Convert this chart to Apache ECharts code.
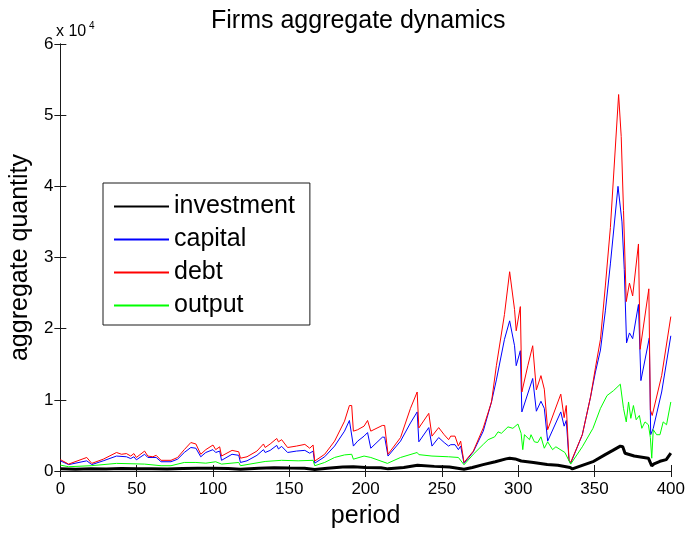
<!DOCTYPE html>
<html>
<head>
<meta charset="utf-8">
<title>Firms aggregate dynamics</title>
<script src="https://cdn.jsdelivr.net/npm/echarts@6/dist/echarts.min.js"></script>
<style>
  html, body { margin: 0; padding: 0; background: #fff; }
  #chart { width: 688px; height: 534px; }
</style>
</head>
<body>
<div id="chart"></div>
<script>
// Aggregate firm dynamics over 400 simulated periods.
const seriesNames = ['investment', 'capital', 'debt', 'output'];
const xTicks = [0, 50, 100, 150, 200, 250, 300, 350, 400];
const yTicks = [0, 1, 2, 3, 4, 5, 6]; // in units of 10^4

const investmentPeriods = [0, 10, 20, 30, 40, 50, 60, 70, 80, 90, 100, 110, 118, 130, 140, 150, 160, 166.7, 175, 185, 192, 200, 210, 214.7, 225, 234, 245, 255, 264.5, 270, 277, 285, 292, 294.4, 298, 302, 310, 319, 326, 334, 335.5, 342, 349.5, 357, 362, 366.9, 368.5, 370, 376, 385.3, 386.5, 387.5, 389, 392.9, 397, 400];
const investmentValues = [300, 250, 300, 280, 350, 300, 330, 280, 350, 400, 380, 350, 250, 400, 450, 420, 400, 200, 400, 550, 600, 500, 450, 300, 500, 800, 650, 550, 250, 500, 900, 1300, 1700, 1800, 1700, 1400, 1200, 900, 800, 500, 300, 800, 1360, 2300, 2900, 3500, 3400, 2500, 2100, 1800, 1200, 700, 1000, 1360, 1600, 2500];

const capitalPeriods = [0, 5.4, 17.3, 20.6, 28.1, 36.8, 43.3, 46.1, 48.2, 49.8, 55.2, 57.3, 62.8, 66, 72.5, 76.8, 81.2, 85.5, 88.8, 92, 95.3, 100, 101.8, 104.4, 105.6, 112.5, 116.9, 118, 122.3, 128.8, 133.1, 134.2, 137.5, 141.8, 142.9, 145, 148.9, 154.7, 160.2, 163.4, 165.6, 166.7, 173.2, 179.7, 186.2, 189.4, 192, 194.8, 199, 201.3, 203.4, 211, 212.5, 214.7, 222.9, 229.4, 233.8, 234.9, 241.4, 243.5, 247.9, 251.5, 254.4, 255.8, 258.6, 260.8, 262.3, 264.5, 270.6, 277.1, 282.5, 285.7, 291, 294.4, 297.6, 298.7, 301.4, 302.4, 309.5, 311.9, 314.9, 317.1, 319.3, 327.9, 330.1, 331.5, 333.3, 334.4, 342, 347.4, 350.6, 353.9, 357.1, 360.4, 365.4, 368, 369.5, 371, 372.9, 375, 378.8, 380.4, 385.9, 386.8, 388.5, 394, 400];
const capitalValues = [1430, 900, 1430, 900, 1430, 2100, 2000, 1750, 2000, 1570, 2350, 1900, 1900, 1300, 1300, 1660, 2600, 3300, 3200, 2000, 2600, 3000, 2600, 2800, 1500, 2350, 2200, 1200, 1430, 2200, 3000, 2600, 2900, 3600, 3100, 3460, 2600, 2800, 2900, 2500, 2800, 1100, 2000, 3500, 5600, 7100, 3500, 4200, 4900, 5400, 3200, 4750, 4750, 2100, 4200, 6750, 8300, 4100, 6100, 3500, 4700, 4000, 3500, 3700, 3700, 3000, 3500, 1070, 2700, 5600, 9700, 12800, 18500, 21100, 17600, 14800, 16900, 8300, 13000, 8400, 9800, 8800, 4200, 8300, 6300, 7100, 1500, 1070, 5100, 10400, 13900, 17000, 22500, 29100, 40000, 35000, 28300, 18000, 19400, 18600, 23400, 12700, 18700, 5100, 6000, 11100, 19000];

const debtPeriods = [0, 5.4, 17.3, 20.6, 28.1, 36.8, 40.1, 43.3, 46.1, 48.2, 49.8, 55.2, 57.3, 60.6, 62.8, 66, 72.5, 76.8, 81.2, 85.5, 88.8, 92, 95.3, 100, 101.8, 104.4, 105.6, 112.5, 116.9, 118, 122.3, 128.8, 133.1, 134.2, 137.5, 141.8, 142.9, 145, 148.9, 154.7, 160.2, 163.4, 165.6, 166.7, 173.2, 179.7, 186.2, 189.4, 190.9, 192, 194.8, 199, 201.3, 203.4, 211, 212.5, 214.7, 222.9, 229.4, 233.8, 234.9, 241.4, 243.5, 247.9, 251.5, 254.4, 255.8, 258.6, 260.8, 262.3, 264.5, 270.6, 277.1, 282.5, 285.7, 291, 294.4, 297.6, 298.7, 301.4, 302.4, 306.3, 309.5, 311.9, 314.9, 317.1, 319.3, 327.9, 330.1, 331.5, 333.3, 334.4, 342, 347.4, 350.6, 353.9, 357.1, 360.4, 365.8, 367.5, 369, 370.8, 372.9, 375, 378.8, 379.9, 385.6, 386.6, 387.8, 394, 400];
const debtValues = [1600, 970, 1900, 1070, 1660, 2600, 2350, 2450, 2100, 2450, 1900, 2800, 2100, 2000, 2200, 1500, 1500, 1900, 3000, 4000, 3800, 2350, 3000, 3650, 3000, 3400, 2100, 2900, 2700, 1800, 2000, 2800, 3800, 3300, 3800, 4570, 4100, 4400, 3300, 3500, 3740, 3200, 3650, 1400, 2350, 4200, 7000, 9200, 9200, 5600, 5800, 6300, 7100, 5600, 6400, 6400, 2350, 4700, 8800, 11100, 6050, 8100, 4900, 6100, 5100, 4400, 4900, 4900, 3500, 4200, 1200, 2800, 6050, 9700, 14800, 22000, 28000, 22700, 19700, 23100, 11100, 14800, 17600, 11400, 13400, 11500, 5800, 10800, 7500, 9200, 1500, 1200, 5100, 10400, 14500, 18500, 26000, 34200, 52900, 47000, 36600, 23800, 26400, 24600, 31900, 17100, 25600, 8600, 7800, 13400, 21700];

const outputPeriods = [0, 5.4, 20.6, 36.8, 55.2, 66, 72.5, 81.2, 88.8, 95.3, 101.8, 105.6, 116.9, 118, 134.2, 145, 155.8, 165.6, 166.7, 173.2, 179.7, 186.2, 190.9, 192, 199, 203.4, 214.3, 222.9, 233.8, 234.9, 243.5, 254.4, 260.8, 264.5, 270.6, 277.1, 280.3, 284.6, 286.8, 289, 293.3, 296.5, 299.8, 301.9, 303, 304.1, 307.4, 308.4, 310.6, 312.8, 314.9, 317.1, 319.3, 322.5, 324.7, 330.6, 333.3, 334.4, 342, 349, 353.9, 358.2, 362.5, 366.9, 369, 370.8, 372.3, 373.8, 375.5, 377.3, 379.4, 381, 383.1, 385.3, 386.6, 387.5, 388.5, 390.7, 392.9, 395, 397.2, 400];
const outputValues = [830, 600, 750, 1070, 970, 740, 740, 1200, 1200, 1100, 1300, 970, 1200, 740, 1340, 1500, 1430, 1500, 740, 1200, 1900, 2260, 2350, 1660, 2100, 1900, 1070, 1900, 2600, 2300, 2100, 2000, 1900, 880, 2350, 3740, 4400, 4800, 5500, 5300, 6200, 6000, 6600, 5300, 3000, 5100, 4400, 5100, 4100, 4000, 4800, 3200, 4100, 3000, 3400, 2600, 1430, 970, 3400, 6000, 8800, 10600, 11300, 12200, 8800, 6900, 9700, 7400, 9200, 7200, 7800, 6000, 6900, 6500, 4700, 1800, 5800, 5100, 5100, 6900, 6500, 9700];

const FONT = '"Liberation Sans", Arial, Helvetica, sans-serif';
const SCALE = 10000;

function pairs(xs, ys) {
  return xs.map((x, i) => [x, ys[i]]);
}

const lineSpecs = [
  { name: seriesNames[0], xs: investmentPeriods, ys: investmentValues, color: '#000000', width: 3 },
  { name: seriesNames[1], xs: capitalPeriods, ys: capitalValues, color: '#0000ff', width: 1 },
  { name: seriesNames[2], xs: debtPeriods, ys: debtValues, color: '#ff0000', width: 1 },
  { name: seriesNames[3], xs: outputPeriods, ys: outputValues, color: '#00ff00', width: 1 }
];

const xMin = xTicks[0], xMax = xTicks[xTicks.length - 1], xStep = xTicks[1] - xTicks[0];
const yMin = yTicks[0] * SCALE, yMax = yTicks[yTicks.length - 1] * SCALE, yStep = (yTicks[1] - yTicks[0]) * SCALE;

const axisLineStyle = { color: '#1a1a1a', width: 1 };

const chart = echarts.init(document.getElementById('chart'), null, { renderer: 'canvas' });

chart.setOption({
  backgroundColor: '#ffffff',
  animation: false,
  title: {
    text: 'Firms aggregate dynamics',
    left: 211,
    top: 9,
    padding: 0,
    textStyle: { fontFamily: FONT, fontSize: 25, fontWeight: 'normal', color: '#000' }
  },
  legend: {
    orient: 'vertical',
    left: 103,
    top: 183,
    padding: [11, 15, 7, 10],
    backgroundColor: '#ffffff',
    borderColor: '#1a1a1a',
    borderWidth: 1,
    itemWidth: 55,
    itemHeight: 14,
    itemGap: 8,
    // line-only keys: hide the marker dot drawn on top of each key line
    itemStyle: { opacity: 0, borderWidth: 0 },
    textStyle: { fontFamily: FONT, fontSize: 25, color: '#000' },
    data: seriesNames
  },
  grid: { left: 55, right: 17, top: 44, bottom: 57, containLabel: false },
  xAxis: [
    {
      type: 'value', min: xMin, max: xMax, interval: xStep,
      name: 'period', nameLocation: 'middle', nameGap: 33,
      nameTextStyle: { fontFamily: FONT, fontSize: 25, color: '#000' },
      axisLine: { show: true, lineStyle: axisLineStyle },
      axisTick: { show: true, inside: true, length: 6, lineStyle: axisLineStyle },
      axisLabel: { fontFamily: FONT, fontSize: 17, color: '#000', margin: 10 },
      splitLine: { show: false }
    },
    {
      type: 'value', position: 'top', min: xMin, max: xMax, interval: xStep,
      axisLine: { show: true, lineStyle: axisLineStyle },
      axisTick: { show: true, inside: true, length: 6, lineStyle: axisLineStyle },
      axisLabel: { show: false },
      splitLine: { show: false }
    }
  ],
  yAxis: [
    {
      type: 'value', min: yMin, max: yMax, interval: yStep,
      name: 'aggregate quantity', nameLocation: 'middle', nameGap: 23,
      nameTextStyle: { fontFamily: FONT, fontSize: 25, color: '#000' },
      axisLine: { show: true, lineStyle: axisLineStyle },
      axisTick: { show: true, inside: true, length: 6, lineStyle: axisLineStyle },
      axisLabel: { fontFamily: FONT, fontSize: 17, color: '#000', margin: 7,
                   formatter: v => String(Math.round(v / SCALE)) },
      splitLine: { show: false }
    },
    {
      type: 'value', position: 'right', min: yMin, max: yMax, interval: yStep,
      axisLine: { show: true, lineStyle: axisLineStyle },
      axisTick: { show: true, inside: true, length: 6, lineStyle: axisLineStyle },
      axisLabel: { show: false },
      splitLine: { show: false }
    }
  ],
  graphic: [
    {
      type: 'text', left: 56, top: 24,
      style: { text: 'x 10', fontFamily: FONT, fontSize: 16, fill: '#000' }
    },
    {
      type: 'text', left: 89, top: 21,
      style: { text: '4', fontFamily: FONT, fontSize: 10, fill: '#000' }
    }
  ],
  series: lineSpecs.map(s => ({
    name: s.name,
    type: 'line',
    xAxisIndex: 0,
    yAxisIndex: 0,
    symbol: 'none',
    showSymbol: false,
    silent: true,
    lineStyle: { color: s.color, width: s.width },
    itemStyle: { color: s.color },
    data: pairs(s.xs, s.ys)
  }))
});
</script>
</body>
</html>
